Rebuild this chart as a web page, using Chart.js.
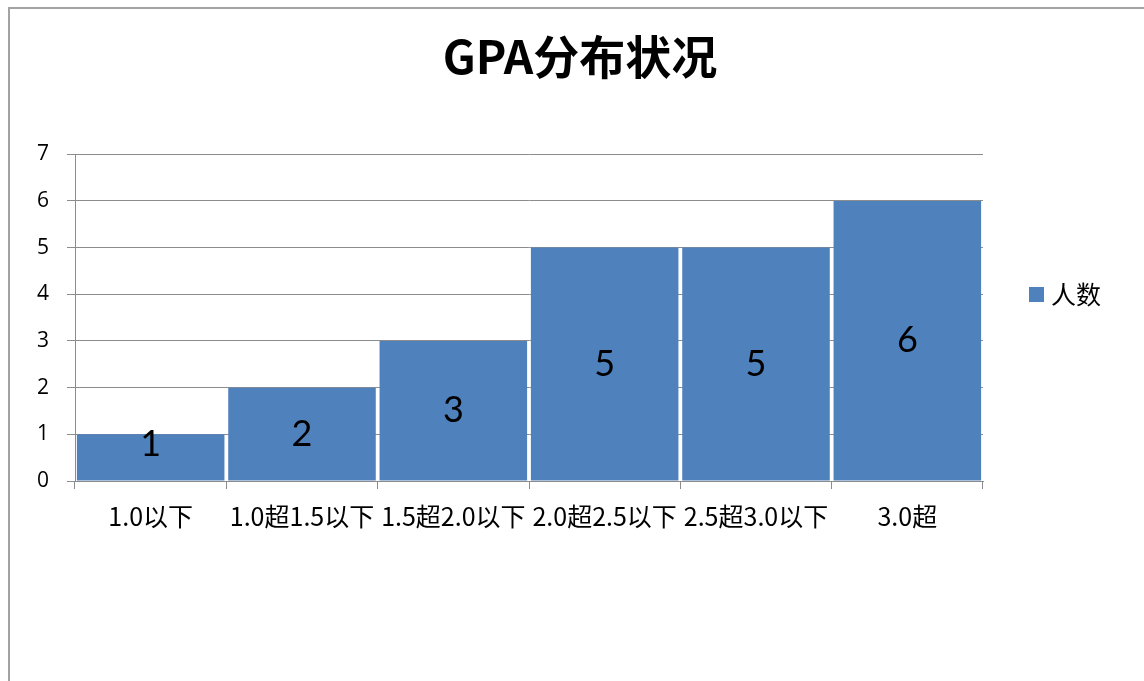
<!DOCTYPE html>
<html>
<head>
<meta charset="utf-8">
<script src="https://cdn.jsdelivr.net/npm/chart.js@4.4.1/dist/chart.umd.min.js"></script>
<style>
  html, body { margin: 0; padding: 0; background: #fff; overflow: hidden; }
  #frame { position: absolute; left: 8px; top: 7px; width: 1300px; height: 900px;
           border-left: 2px solid #a3a3a3; border-top: 2px solid #a3a3a3; }
  #chart { position: absolute; left: 0; top: 0; }
</style>
</head>
<body>
<div id="frame"></div>
<canvas id="chart" width="1144" height="681"></canvas>
<script>
// datos del gráfico
const categories = ['1.0以下', '1.0超1.5以下', '1.5超2.0以下', '2.0超2.5以下', '2.5超3.0以下', '3.0超'];
const counts = [1, 2, 3, 5, 5, 6];
const yTicks = [0, 1, 2, 3, 4, 5, 6, 7];
const seriesName = '人数';
const chartTitle = 'GPA分布状况';

const barColor = '#4f81bd';
const gridColor = '#8c8c8c';
const fontFamily = '"Open Sans", "Noto Sans CJK SC", sans-serif';
const cjkFamily = '"Noto Sans CJK SC", sans-serif';

// etiquetas de valor dentro de cada barra
const valueLabels = {
  id: 'valueLabels',
  afterDatasetsDraw(chart) {
    const ctx = chart.ctx;
    const meta = chart.getDatasetMeta(0);
    ctx.save();
    ctx.font = '36px Lato, sans-serif';
    ctx.fillStyle = '#000';
    ctx.textAlign = 'center';
    ctx.textBaseline = 'middle';
    meta.data.forEach((bar, i) => {
      let y = (bar.y + bar.base) / 2;
      y = Math.min(y, bar.base - 36);
      ctx.fillText(String(counts[i]), bar.x, y);
    });
    ctx.restore();
  }
};

// leyenda a la derecha
const sideLegend = {
  id: 'sideLegend',
  afterDraw(chart) {
    const ctx = chart.ctx;
    const area = chart.chartArea;
    const x = area.right + 46;
    const y = 294;
    ctx.save();
    ctx.fillStyle = barColor;
    ctx.fillRect(x, y - 7, 15, 15);
    ctx.fillStyle = '#000';
    ctx.font = '25px ' + cjkFamily;
    ctx.textAlign = 'left';
    ctx.textBaseline = 'middle';
    ctx.fillText(seriesName, x + 22, y);
    ctx.restore();
  }
};

const ctx = document.getElementById('chart').getContext('2d');
const gpaChart = new Chart(ctx, {
  type: 'bar',
  data: {
    labels: categories,
    datasets: [{
      label: seriesName,
      data: counts,
      backgroundColor: barColor,
      borderWidth: 0,
      categoryPercentage: 1,
      barPercentage: 0.975
    }]
  },
  options: {
    responsive: false,
    animation: false,
    layout: { padding: { left: 16, right: 0, top: 0, bottom: 0 } },
    plugins: {
      legend: { display: false },
      tooltip: { enabled: false },
      title: {
        display: true,
        text: chartTitle,
        color: '#000',
        font: { family: cjkFamily, size: 46, weight: 'bold' },
        padding: { top: 29, bottom: 70 }
      }
    },
    scales: {
      x: {
        offset: true,
        grid: { offset: true, drawOnChartArea: false, drawTicks: true, tickLength: 8, color: gridColor },
        border: { display: true, color: gridColor, width: 1 },
        ticks: {
          color: '#000',
          font: { family: cjkFamily, size: 25 },
          padding: 12,
          maxRotation: 0,
          autoSkip: false
        },
        afterFit: (scale) => { scale.height = 200; }
      },
      y: {
        min: 0,
        max: 7,
        afterBuildTicks: (scale) => { scale.ticks = yTicks.map(v => ({ value: v })); },
        grid: { color: gridColor, tickLength: 8, lineWidth: 1 },
        border: { display: true, color: gridColor, width: 1 },
        ticks: {
          color: '#000',
          font: { family: fontFamily, size: 21 },
          padding: 18
        },
        afterFit: (scale) => { scale.width = 59; }
      },
      // eje vacío para reservar espacio a la leyenda
      yRight: {
        position: 'right',
        display: true,
        min: 0,
        max: 7,
        grid: { display: false, drawTicks: false },
        border: { display: false },
        ticks: { display: false },
        afterFit: (scale) => { scale.width = 161; }
      }
    }
  },
  plugins: [valueLabels, sideLegend]
});
</script>
</body>
</html>
